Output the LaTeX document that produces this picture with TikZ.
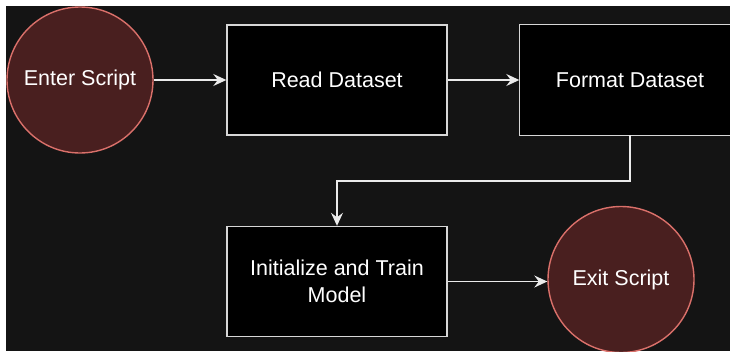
\documentclass[tikz,border=0pt]{standalone}
\usepackage{fontspec}
\setmainfont{Liberation Sans}
\usetikzlibrary{arrows.meta}
\definecolor{bgdark}{RGB}{20,20,20}
\definecolor{circfill}{RGB}{73,31,31}
\definecolor{circdraw}{RGB}{218,112,106}
\definecolor{boxdraw}{RGB}{215,215,215}
\definecolor{linecol}{RGB}{235,235,235}
\begin{document}
\begin{tikzpicture}[x=1pt,y=-1pt,
  termnode/.style={circle,fill=circfill,draw=circdraw,line width=1.4pt,minimum size=146pt,inner sep=0pt,text=white,font=\fontsize{21.5}{26}\selectfont},
  procbox/.style={rectangle,fill=black,draw=boxdraw,line width=1.4pt,minimum width=220pt,minimum height=110pt,inner sep=0pt,text=white,align=center,font=\fontsize{21.5}{27}\selectfont},
  boxedge/.style={draw=boxdraw,line width=1.4pt},
  flow/.style={draw=linecol,line width=1.4pt,-{Stealth[length=13pt,width=12pt,inset=4.5pt]}}]
\useasboundingbox (0,0) rectangle (730,351);
\fill[white] (0,0) rectangle (730,351);
\fill[bgdark] (6,6) rectangle (730,351);
\node[procbox,draw=none,minimum width=210pt] (format) at (625,80) {\hspace*{10pt}Format Dataset};
\draw[boxedge] (format.north east) -- (format.north west) -- (format.south west) -- (format.south east);
\node[termnode] (enter) at (80,80) {Enter Script};
\node[procbox] (read) at (337,80) {Read Dataset};
\node[procbox] (init) at (337,281.5) {Initialize and Train\\Model};
\node[termnode] (exit) at (621,279.5) {Exit Script};
\coordinate (fb) at (630,135);
\coordinate (b1) at (630,181);
\coordinate (b2) at (337,181);
\draw[flow] (read) -- (format);
\draw[flow] (enter) -- (read);
\draw[flow] (fb) -- (b1) -- (b2) -- (init.north);
\draw[flow] (init.east) -- (exit.west |- init.east);
\end{tikzpicture}
\end{document}
